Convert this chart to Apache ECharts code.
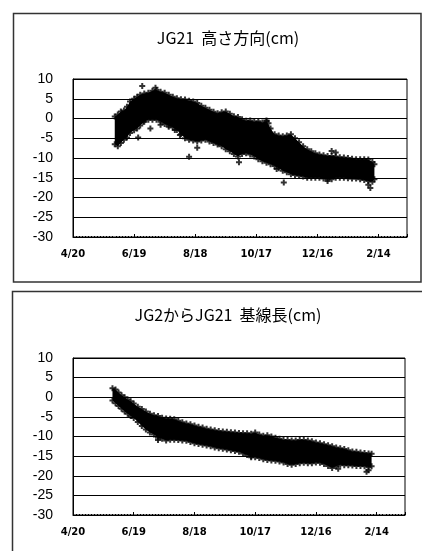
<!DOCTYPE html>
<html>
<head>
<meta charset="utf-8">
<script src="https://cdn.jsdelivr.net/npm/echarts@6/dist/echarts.min.js"></script>
<style>
  html, body { margin: 0; padding: 0; background: #fff; }
  #chart { width: 422px; height: 551px; }
</style>
</head>
<body>
<div id="chart"></div>
<script>
// x values are days counted from 4/20
const xTickDays = [0, 60, 120, 180, 240, 300]

// JG21 height (cm): upper / lower edge of the point cloud
const topDays = [41,44,47,50,53,56,60,63,66,70, 74,78,82,86,90,94,98,102,106,110, 114,118,122,126,130,134,138,142,146,150,
  154,158,162,166,170,174,178,182,186,190, 194,198,202,206,210,214,218,222,226,230, 234,238,242,246,250,254,258,262,266,270,
  274,278,282,286,290,294,296]
const topHigh = [0.5,1.0,1.8,2.0,3.0,4.3,5.0,5.5,6.0,6.3, 6.5,7.0,7.2,6.8,6.5,6.0,5.5,5.1,4.9,4.8, 4.5,4.3,3.9,3.2,2.7,2.2,1.7,1.3,1.6,1.8,
  1.2,0.6,0.4,-0.2,-0.6,-0.5,-0.8,-0.7,-1.0,-0.7, -2.5,-4.0,-4.3,-4.5,-4.3,-4.0,-5.0,-6.0,-7.0,-7.8, -8.3,-8.8,-9.1,-9.3,-9.5,-9.5,-9.6,-9.8,-9.9,-10.0,
  -10.2,-10.3,-10.3,-10.3,-10.4,-11.0,-11.6]
const topLow = [-6.5,-7.0,-6.2,-5.4,-4.8,-3.7,-3.0,-2.5,-1.8,-0.8, -0.3,-0.3,-0.3,-0.8,-1.4,-1.8,-2.3,-2.9,-4.0,-5.0, -5.4,-5.6,-5.8,-5.6,-5.4,-5.8,-6.2,-6.6,-7.0,-7.8,
  -8.3,-9.0,-9.6,-9.0,-8.8,-9.1,-9.6,-10.3,-10.8,-11.2, -11.6,-12.0,-12.6,-13.2,-13.6,-14.1,-14.3,-14.5,-14.7,-15.0, -15.0,-15.0,-15.0,-15.2,-15.4,-15.4,-15.0,-15.0,-15.0,-15.1,
  -15.2,-15.2,-15.4,-15.6,-15.8,-16.0,-15.4]
const topStray = [[68,8.2],[81,7.8],[64,-4.8],[69,-0.8],[76,-2.5],[86,-1.6],[94,-2.1],[100,-2.9],[105,-4.2],[114,-9.7],
  [122,-7.4],[143,-6.3],[163,-11.1],[190,-0.5],[192,-1.2],[207,-16.2],[254,-8.2],[258,-8.6],[292,-17.6],[290,-16.8],[200,-12.8],[250,-15.8]]

// JG2 -> JG21 baseline (cm)
const botDays = [39,42,45,48,51,54,57,60, 64,68,72,76,80,84,88,92,96,100, 104,108,112,116,120,124,128,132,136,140,
  144,148,152,156,160,164,168,172,176,180, 184,188,192,196,200,204,208,212,216,220, 224,228,232,236,240,244,248,252,256,260,
  264,268,272,276,280,284,288,292,295]
const botHigh = [2.3,2.0,1.2,0.5,0.0,-0.6,-1.0,-1.6, -2.4,-3.0,-3.6,-4.2,-4.6,-4.8,-5.2,-5.4,-5.5,-5.6, -6.0,-6.4,-6.7,-6.9,-7.2,-7.5,-7.7,-8.0,-8.2,-8.4,
  -8.6,-8.7,-8.8,-8.9,-9.0,-9.1,-9.2,-9.2,-9.3,-9.0, -9.5,-9.8,-9.7,-10.0,-10.3,-10.6,-10.9,-10.9,-11.0,-11.0, -10.9,-10.9,-11.0,-11.2,-11.5,-11.7,-12.0,-12.2,-12.5,-12.8,
  -13.0,-13.2,-13.5,-13.8,-13.9,-14.1,-14.2,-14.3,-14.4]
const botLow = [-0.8,-1.5,-2.2,-2.9,-3.6,-4.2,-4.8,-5.3, -6.3,-7.3,-8.2,-9.0,-9.5,-10.3,-10.6,-11.0,-10.8,-10.8, -10.9,-11.0,-11.1,-11.4,-11.7,-11.9,-12.1,-12.3,-12.5,-12.8,
  -13.0,-13.1,-13.3,-13.5,-13.7,-13.9,-14.3,-14.7,-15.0,-15.3, -15.5,-15.8,-16.0,-16.1,-16.2,-16.4,-16.6,-17.0,-17.2,-17.0, -16.8,-16.7,-16.8,-16.8,-16.6,-16.7,-17.0,-17.5,-18.0,-17.6,
  -17.2,-17.3,-17.3,-17.4,-17.5,-17.5,-17.6,-17.8,-17.6]
const botStray = [[290,-19.0],[292,-18.6],[262,-18.2],[84,-10.9],[176,-15.3]]

// bold "+" like the spreadsheet markers
const PLUS = 'path://M2 0h2v2h2v2h-2v2h-2v-2h-2v-2h2z'

function dayLabel(v) {
  if (xTickDays.indexOf(v) < 0) return ''
  const d = new Date(Date.UTC(2000, 3, 20) + v * 86400000)
  return (d.getUTCMonth() + 1) + '/' + d.getUTCDate()
}

function xAxis(i) {
  return {
    type: 'value', gridIndex: i, min: 0, max: 328, interval: 60,
    axisLine: { onZero: false, lineStyle: { color: '#000', width: 1 } },
    axisTick: { inside: true, length: 3, lineStyle: { color: '#000' } },
    minorTick: { show: true, splitNumber: 20, length: 1, lineStyle: { color: '#000' } },
    splitLine: { show: false },
    axisLabel: { formatter: dayLabel, margin: 12, color: '#000', fontSize: 10, fontWeight: 'bold', fontFamily: 'DejaVu Sans' },
  }
}

function yAxis(i) {
  return {
    type: 'value', gridIndex: i, min: -30, max: 10, interval: 5,
    axisLine: { show: true, onZero: false, lineStyle: { color: '#000', width: 1 } },
    axisTick: { show: false },
    splitLine: { lineStyle: { color: '#000', width: 1 } },
    axisLabel: { margin: 20, color: '#000', fontSize: 14, fontFamily: 'Liberation Sans' },
  }
}

function band(i, days, hi, lo) {
  return {
    type: 'custom', xAxisIndex: i, yAxisIndex: i, data: [[days[0], hi[0]]],
    renderItem(params, api) {
      const pts = []
      days.forEach((d, k) => pts.push(api.coord([d, hi[k]])))
      for (let k = days.length - 1; k >= 0; k--) pts.push(api.coord([days[k], lo[k]]))
      return { type: 'polygon', shape: { points: pts }, style: { fill: '#000' } }
    },
    silent: true,
  }
}

function dots(i, days, hi, lo, stray) {
  const data = days.map((d, k) => [d, hi[k]])
    .concat(days.map((d, k) => [d, lo[k]]))
    .concat(stray)
  return {
    type: 'scatter', xAxisIndex: i, yAxisIndex: i, data,
    symbol: PLUS, symbolSize: 6, itemStyle: { color: '#000' }, silent: true,
  }
}

const chart = echarts.init(document.getElementById('chart'), null, { renderer: 'canvas' })
chart.setOption({
  animation: false,
  backgroundColor: '#fff',
  title: [
    { text: 'JG21  高さ方向(cm)', left: 223, top: 25, textAlign: 'center',
      textStyle: { fontSize: 16, fontWeight: 'normal', color: '#000', fontFamily: 'Noto Sans CJK JP' } },
    { text: 'JG2からJG21  基線長(cm)', left: 223, top: 302, textAlign: 'center',
      textStyle: { fontSize: 16, fontWeight: 'normal', color: '#000', fontFamily: 'Noto Sans CJK JP' } },
  ],
  graphic: [
    { type: 'rect', shape: { x: 13.5, y: 13.5, width: 407.5, height: 268.5 }, style: { fill: 'none', stroke: '#333', lineWidth: 1.5 } },
    { type: 'rect', shape: { x: 12.5, y: 291.5, width: 420, height: 270 }, style: { fill: 'none', stroke: '#333', lineWidth: 1.5 } },
  ],
  grid: [
    { left: 73, top: 79, width: 334, height: 158, show: true, borderColor: '#000', borderWidth: 1 },
    { left: 73, top: 358, width: 332, height: 157, show: true, borderColor: '#000', borderWidth: 1 },
  ],
  xAxis: [xAxis(0), xAxis(1)],
  yAxis: [yAxis(0), yAxis(1)],
  series: [
    band(0, topDays, topHigh, topLow),
    dots(0, topDays, topHigh, topLow, topStray),
    band(1, botDays, botHigh, botLow),
    dots(1, botDays, botHigh, botLow, botStray),
  ],
})
</script>
</body>
</html>
